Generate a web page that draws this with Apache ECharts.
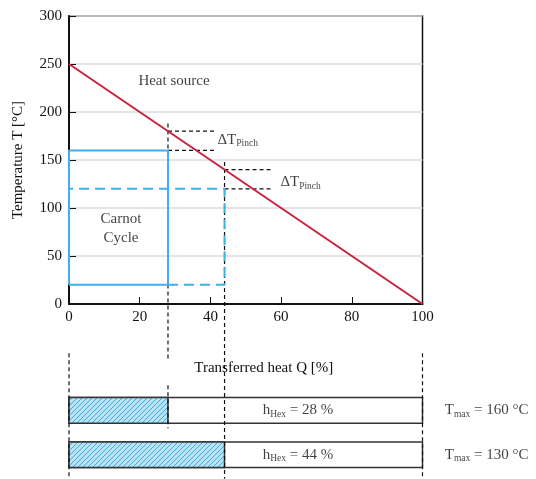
<!DOCTYPE html>
<html><head><meta charset="utf-8">
<script src="https://cdn.jsdelivr.net/npm/echarts@6/dist/echarts.min.js"></script>
<style>html,body{margin:0;padding:0;background:#fff}#c{width:536px;height:479px}</style>
</head><body><div id="c"></div>
<script>
// ---- data ----
const xTicks = [0, 20, 40, 60, 80, 100];
const yTicks = [0, 50, 100, 150, 200, 250, 300];
const heatSource = [[0, 250], [100, 0]];
const hHex = [28, 44];              // transferred heat share [%]
const cycleTop = [160, 120];        // drawn upper temperature of each Carnot cycle
const cycleBottom = 20;             // lower temperature of the cycles
const tMaxLabels = [160, 130];      // T_max annotations
const pinchHot = [180, 140];        // heat source temperature at the pinch
const pinchCold = [160, 120];       // cycle temperature at the pinch
const pinchEnd = [41, 57];          // end of the pinch marker lines
const guideTop = [188, 148];        // top of the vertical guides

const F = 'Liberation Serif, Times New Roman, serif';
const black = '#111';

// hatch pattern
const pc = document.createElement('canvas');
pc.width = 5; pc.height = 5;
const g = pc.getContext('2d');
g.fillStyle = '#b7e3f6'; g.fillRect(0, 0, 5, 5);
g.strokeStyle = '#4aa6d6'; g.lineWidth = 1;
g.beginPath();
g.moveTo(0, 5); g.lineTo(5, 0);
g.moveTo(-2.5, 2.5); g.lineTo(2.5, -2.5);
g.moveTo(2.5, 7.5); g.lineTo(7.5, 2.5);
g.stroke();

const dashBlack = {color: black, width: 1.2, type: [4, 3]};
function seg(data, style, extra) {
  return Object.assign({type: 'line', data: data, symbol: 'none', silent: true,
    lineStyle: style, xAxisIndex: 0, yAxisIndex: 0, animation: false}, extra || {});
}

const series = [];
// vertical guides through main plot, continued below the axis
series.push(seg([[hHex[0], guideTop[0]], [hHex[0], -58]], dashBlack, {clip: false}));
series.push(seg([[hHex[1], guideTop[1]], [hHex[1], -182]], dashBlack, {clip: false}));
// lower panel guides
series.push(seg([[0, -0.79], [0, 2.06]], dashBlack, {clip: false, xAxisIndex: 1, yAxisIndex: 1}));
series.push(seg([[100, -0.79], [100, 2.06]], dashBlack, {clip: false, xAxisIndex: 1, yAxisIndex: 1}));
series.push(seg([[hHex[0], -0.07], [hHex[0], 0.9]], dashBlack, {clip: false, xAxisIndex: 1, yAxisIndex: 1}));
// pinch markers
for (let i = 0; i < 2; i++) {
  series.push(seg([[hHex[i], pinchHot[i]], [pinchEnd[i], pinchHot[i]]], dashBlack));
  series.push(seg([[hHex[i], pinchCold[i]], [pinchEnd[i], pinchCold[i]]], dashBlack));
}
series.push(seg(heatSource, {color: '#c8223f', width: 2}));
// Carnot cycles
series.push(seg([[0, cycleBottom], [0, cycleTop[0]], [hHex[0], cycleTop[0]], [hHex[0], cycleBottom], [0, cycleBottom]],
  {color: '#41aef0', width: 2}));
series.push(seg([[hHex[0], cycleBottom], [hHex[1], cycleBottom], [hHex[1], cycleTop[1]], [0, cycleTop[1]]],
  {color: '#41aef0', width: 2, type: [10, 6]}));

// bars
series.push({
  type: 'custom', xAxisIndex: 1, yAxisIndex: 1, clip: false, silent: true, animation: false,
  data: hHex.map((h, i) => [i, h]),
  renderItem: function (params, api) {
    const row = api.value(0), h = api.value(1);
    const a = api.coord([0, row + 0.21]);
    const b = api.coord([100, row + 0.79]);
    const c = api.coord([h, row + 0.79]);
    return {type: 'group', children: [
      {type: 'rect', shape: {x: a[0], y: a[1], width: b[0] - a[0], height: b[1] - a[1]},
        style: {fill: '#fff', stroke: '#333', lineWidth: 1.5}},
      {type: 'rect', shape: {x: a[0], y: a[1], width: c[0] - a[0], height: c[1] - a[1]},
        style: {fill: {image: pc, repeat: 'repeat'}, stroke: '#333', lineWidth: 1.5}}
    ]};
  }
});

const rich = {
  a: {fontFamily: F, fontSize: 15, color: black},
  b: {fontFamily: F, fontSize: 9.5, color: black, padding: [8, 0, 0, 0]}
};
function label(x, y, text, pos, xi, yi) {
  return {type: 'scatter', xAxisIndex: xi || 0, yAxisIndex: yi || 0, clip: false, silent: true,
    symbolSize: 0, animation: false, data: [[x, y]],
    label: {show: true, position: pos || 'inside', distance: 0, formatter: text, rich: rich,
      fontFamily: F, fontSize: 15, color: black, lineHeight: 19, align: pos === 'right' ? 'left' : 'center'}};
}
series.push(label(29.7, 232, 'Heat source'));
series.push(label(14.7, 79, 'Carnot\nCycle'));
series.push(label(42, 171, '{a|ΔT}{b|Pinch}', 'right'));
series.push(label(59.8, 127, '{a|ΔT}{b|Pinch}', 'right'));
for (let i = 0; i < 2; i++) {
  series.push(label(54.8, i + 0.5, '{a|h}{b|Hex}{a| = ' + hHex[i] + ' %}', 'right', 1, 1));
  series.push(label(106.3, i + 0.5, '{a|T}{b|max}{a| = ' + tMaxLabels[i] + ' °C}', 'right', 1, 1));
}

const option = {
  backgroundColor: '#fff',
  animation: false,
  grid: [
    {left: 69, right: 113.5, top: 16, bottom: 175, show: true, borderColor: black, borderWidth: 1.5, backgroundColor: 'transparent'},
    {left: 69, right: 113.5, top: 388.3, height: 88.6}
  ],
  xAxis: [
    {type: 'value', gridIndex: 0, min: xTicks[0], max: xTicks[xTicks.length - 1], interval: xTicks[1] - xTicks[0],
      axisLine: {lineStyle: {color: black, width: 2}},
      axisTick: {inside: true, length: 7, lineStyle: {color: black, width: 1}},
      axisLabel: {fontFamily: F, fontSize: 15, color: black, margin: 6},
      splitLine: {show: false},
      name: 'Transferred heat Q [%]', nameLocation: 'middle', nameGap: 57,
      nameTextStyle: {fontFamily: F, fontSize: 15, color: black, padding: [0, 0, 0, 36]}},
    {type: 'value', gridIndex: 1, min: 0, max: 100, show: false}
  ],
  yAxis: [
    {type: 'value', gridIndex: 0, min: yTicks[0], max: yTicks[yTicks.length - 1], interval: yTicks[1] - yTicks[0],
      axisLine: {show: true, lineStyle: {color: black, width: 2}},
      axisTick: {show: true, inside: true, length: 7, lineStyle: {color: black, width: 1}},
      axisLabel: {fontFamily: F, fontSize: 15, color: black, margin: 7},
      splitLine: {show: true, lineStyle: {color: '#dcdcdc', width: 1.5}},
      name: 'Temperature T [°C]', nameLocation: 'middle', nameGap: 43, nameRotate: 90,
      nameTextStyle: {fontFamily: F, fontSize: 15, color: black}},
    {type: 'value', gridIndex: 1, min: 0, max: 2, inverse: true, show: false}
  ],
  series: series
};
const chart = echarts.init(document.getElementById('c'), null, {renderer: 'canvas'});
chart.setOption(option);
</script>
</body></html>
